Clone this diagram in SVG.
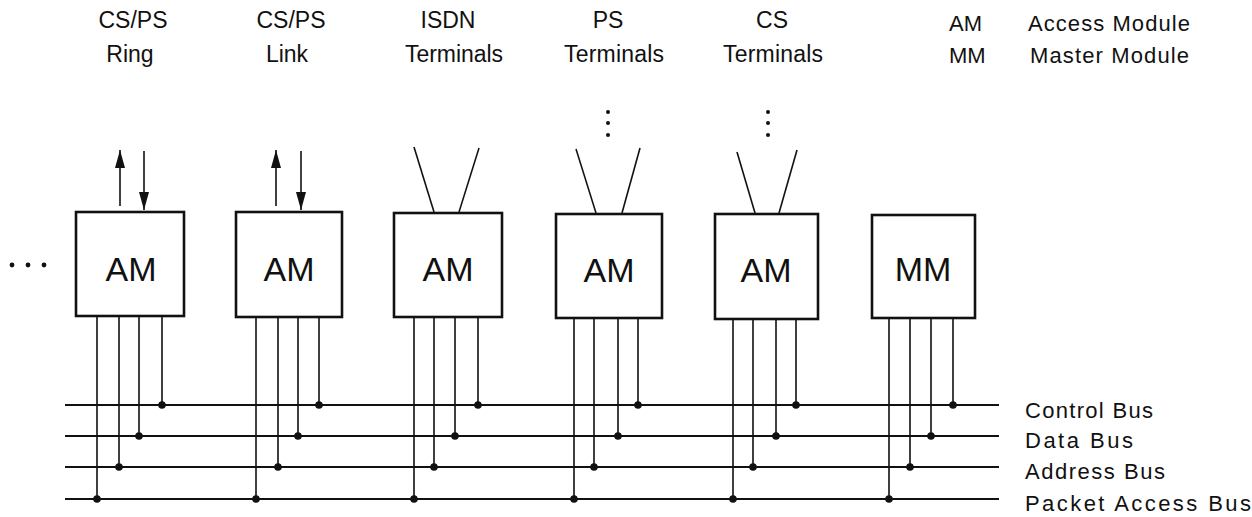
<svg xmlns="http://www.w3.org/2000/svg" width="1252" height="517" viewBox="0 0 1252 517">
<style>
text{font-family:"Liberation Sans",Arial,sans-serif;fill:#111}
.lbl{font-size:23px;text-anchor:middle}
.key{font-size:22px}
.box{fill:#fff;stroke:#111;stroke-width:2.6}
.mod{font-size:34px;text-anchor:middle}
.ln{stroke:#111;stroke-width:1.6;fill:none}
.bus{stroke:#111;stroke-width:1.8;fill:none}
.dot{fill:#111}
</style>
<defs>
<marker id="ad" markerUnits="userSpaceOnUse" markerWidth="19" markerHeight="11" viewBox="0 0 19 11" refX="18" refY="5.5" orient="auto">
<path d="M0 0.5 L18 5.5 L0 10.5 Z" fill="#111"/>
</marker>
</defs>
<rect width="1252" height="517" fill="#fff"/>

<g id="labels">
<text class="lbl" x="133" y="28">CS/PS</text>
<text class="lbl" x="130" y="62">Ring</text>
<text class="lbl" x="291" y="28">CS/PS</text>
<text class="lbl" x="287" y="62">Link</text>
<text class="lbl" x="448" y="28">ISDN</text>
<text class="lbl" x="454" y="62" textLength="98">Terminals</text>
<text class="lbl" x="608" y="28">PS</text>
<text class="lbl" x="614" y="62" textLength="100">Terminals</text>
<text class="lbl" x="772" y="28">CS</text>
<text class="lbl" x="773" y="62" textLength="100">Terminals</text>
</g>

<g id="legend">
<text class="key" x="949" y="31">AM</text>
<text class="key" x="1028" y="31" textLength="162">Access Module</text>
<text class="key" x="949" y="63">MM</text>
<text class="key" x="1030" y="63" textLength="159">Master Module</text>
</g>

<g id="ellipsis">
<circle class="dot" cx="12" cy="265" r="2.4"/>
<circle class="dot" cx="28" cy="265" r="2.4"/>
<circle class="dot" cx="44" cy="265" r="2.4"/>
</g>

<g id="node-am1">
<rect class="box" x="76" y="212" width="108" height="104"/>
<text class="mod" x="131" y="281">AM</text>
</g>
<g id="node-am2">
<rect class="box" x="236" y="212" width="106" height="105"/>
<text class="mod" x="289" y="281">AM</text>
</g>
<g id="node-am3">
<rect class="box" x="394" y="213" width="108" height="104"/>
<text class="mod" x="448" y="281">AM</text>
</g>
<g id="node-am4">
<rect class="box" x="556" y="214" width="106" height="104"/>
<text class="mod" x="609" y="282">AM</text>
</g>
<g id="node-am5">
<rect class="box" x="715" y="214" width="103" height="105"/>
<text class="mod" x="766" y="282">AM</text>
</g>
<g id="node-mm">
<rect class="box" x="872" y="215" width="103" height="103"/>
<text class="mod" x="923" y="281">MM</text>
</g>

<g id="bus-labels">
<text class="key" x="1025" y="418" textLength="128">Control Bus</text>
<text class="key" x="1025" y="448" textLength="108">Data Bus</text>
<text class="key" x="1025" y="479" textLength="140">Address Bus</text>
<text class="key" x="1025" y="511" textLength="226">Packet Access Bus</text>
</g>

<g id="connectors">
<line class="ln" x1="120" y1="206" x2="120" y2="150" marker-end="url(#ad)"/>
<line class="ln" x1="144" y1="151" x2="144" y2="210" marker-end="url(#ad)"/>
<line class="ln" x1="276" y1="206" x2="276" y2="150" marker-end="url(#ad)"/>
<line class="ln" x1="301" y1="151" x2="301" y2="210" marker-end="url(#ad)"/>
<line class="ln" x1="414" y1="147" x2="434" y2="212"/>
<line class="ln" x1="479" y1="148" x2="459" y2="212"/>
<line class="ln" x1="576" y1="149" x2="596" y2="213"/>
<line class="ln" x1="640" y1="148" x2="622" y2="213"/>
<line class="ln" x1="737" y1="152" x2="755" y2="213"/>
<line class="ln" x1="797" y1="150" x2="779" y2="213"/>
<circle class="dot" cx="608" cy="112" r="2"/>
<circle class="dot" cx="608" cy="123" r="2"/>
<circle class="dot" cx="608" cy="135" r="2"/>
<circle class="dot" cx="768" cy="112" r="2"/>
<circle class="dot" cx="768" cy="123" r="2"/>
<circle class="dot" cx="768" cy="135" r="2"/>
<line class="bus" x1="65" y1="405" x2="999" y2="405"/>
<line class="bus" x1="65" y1="436" x2="999" y2="436"/>
<line class="bus" x1="65" y1="467" x2="999" y2="467"/>
<line class="bus" x1="65" y1="499" x2="999" y2="499"/>
<path class="ln" d="M97 316V499M119 316V467M139 316V436M162 316V405"/>
<circle class="dot" cx="97" cy="499" r="3.8"/><circle class="dot" cx="119" cy="467" r="3.8"/><circle class="dot" cx="139" cy="436" r="3.8"/><circle class="dot" cx="162" cy="405" r="3.8"/>
<path class="ln" d="M256 317V499M278 317V467M298 317V436M319 317V405"/>
<circle class="dot" cx="256" cy="499" r="3.8"/><circle class="dot" cx="278" cy="467" r="3.8"/><circle class="dot" cx="298" cy="436" r="3.8"/><circle class="dot" cx="319" cy="405" r="3.8"/>
<path class="ln" d="M414 317V499M434 317V467M455 317V436M478 317V405"/>
<circle class="dot" cx="414" cy="499" r="3.8"/><circle class="dot" cx="434" cy="467" r="3.8"/><circle class="dot" cx="455" cy="436" r="3.8"/><circle class="dot" cx="478" cy="405" r="3.8"/>
<path class="ln" d="M574 318V499M594 318V467M618 318V436M638 318V405"/>
<circle class="dot" cx="574" cy="499" r="3.8"/><circle class="dot" cx="594" cy="467" r="3.8"/><circle class="dot" cx="618" cy="436" r="3.8"/><circle class="dot" cx="638" cy="405" r="3.8"/>
<path class="ln" d="M733 319V499M753 319V467M776 319V436M796 319V405"/>
<circle class="dot" cx="733" cy="499" r="3.8"/><circle class="dot" cx="753" cy="467" r="3.8"/><circle class="dot" cx="776" cy="436" r="3.8"/><circle class="dot" cx="796" cy="405" r="3.8"/>
<path class="ln" d="M889 318V499M910 318V467M931 318V436M953 318V405"/>
<circle class="dot" cx="889" cy="499" r="3.8"/><circle class="dot" cx="910" cy="467" r="3.8"/><circle class="dot" cx="931" cy="436" r="3.8"/><circle class="dot" cx="953" cy="405" r="3.8"/>
</g>
</svg>
